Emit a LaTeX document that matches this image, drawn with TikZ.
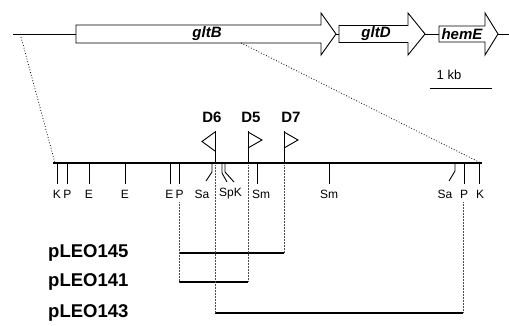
\documentclass[tikz,border=0pt]{standalone}
\usepackage{fontspec}
\setmainfont{Liberation Sans}
\begin{document}
\begin{tikzpicture}[x=1pt,y=-1pt,
  gene/.style={draw=black,fill=white,line width=0.9pt,line join=miter},
  genelbl/.style={font=\fontsize{15}{15}\selectfont\bfseries\itshape,inner sep=0pt},
  site/.style={font=\fontsize{12}{12}\selectfont,inner sep=0pt},
  flaglbl/.style={font=\fontsize{15}{15}\selectfont\bfseries,inner sep=0pt},
  clonelbl/.style={font=\fontsize{18.5}{18.5}\selectfont\bfseries,inner sep=0pt,anchor=west},
  tick/.style={line width=0.9pt},
  guide/.style={densely dotted,line width=0.5pt,black!70},
  zoomln/.style={dotted,line width=0.8pt},
  clone/.style={line width=1.3pt},
  flag/.style={line width=0.9pt,line join=miter}]
\useasboundingbox (0,0) rectangle (509,325);

% ---- top gene map ----
\coordinate (L0) at (13,34);
\coordinate (B0) at (76,34);
\draw[line width=1pt] (L0) -- (B0);
\draw[gene] (76,25) -- (321,25) -- (321,13) -- (336,34) -- (321,55) -- (321,43) -- (76,43) -- cycle;
\coordinate (Btip) at (336,34);
\coordinate (D0) at (339,34);
\draw[line width=0.9pt] (Btip) -- (D0);
\draw[gene] (339,25.5) -- (408,25.5) -- (408,13) -- (425,34) -- (408,55) -- (408,42.5) -- (339,42.5) -- cycle;
\coordinate (Dtip) at (425,34);
\coordinate (E0) at (439,34);
\draw[line width=0.9pt] (Dtip) -- (E0);
\draw[gene] (439,26) -- (485,26) -- (485,13) -- (498,34) -- (485,55) -- (485,42) -- (439,42) -- cycle;
\coordinate (Etip) at (498,34);
\coordinate (Rend) at (509,34);
\draw[line width=0.9pt] (Etip) -- (Rend);
\node[genelbl] (gltB) at (207,34) {gltB};
\node[genelbl] (gltD) at (376,34) {gltD};
\node[genelbl] (hemE) at (462,34) {hemE};

% scale bar
\node[font=\fontsize{13}{13}\selectfont,inner sep=0pt] (kb) at (449,75) {1 kb};
\coordinate (sb1) at (430,88);
\coordinate (sb2) at (492,88);
\draw[line width=1pt] (sb1) -- (sb2);

% ---- zoom lines ----
\coordinate (zl1) at (21,37);
\coordinate (zl2) at (55,163);
\coordinate (zr1) at (241,43);
\coordinate (zr2) at (481,163);
\draw[zoomln] (zl1) -- (zl2);
\draw[zoomln] (zr1) -- (zr2);

% ---- restriction map ----
\coordinate (m0) at (53,163);
\coordinate (m1) at (482,163);
\draw[line width=1.5pt] (m0) -- (m1);

\foreach \x in {57,67,89,125,170,179,257,329,464,479}{
  \draw[tick] (\x,163) -- (\x,184);
}
% angled ticks
\draw[tick] (212,163) -- (212,172) -- (206,181);
\draw[tick] (222,163) -- (222,173) -- (227,182);
\draw[tick] (225,163) -- (225,172) -- (234,182);
\draw[tick] (455,163) -- (455,171) -- (449,181);

\node[site] (sK1) at (57,194) {K};
\node[site] (sP1) at (67.5,194) {P};
\node[site] (sE1) at (89,194) {E};
\node[site] (sE2) at (125,194) {E};
\node[site] (sE3) at (169.5,194) {E};
\node[site] (sP2) at (179.5,194) {P};
\node[site] (sSa1) at (202,194) {Sa};
\node[site] (sSpK) at (230.5,194) {SpK};
\node[site] (sSm1) at (261,194) {Sm};
\node[site] (sSm2) at (329,194) {Sm};
\node[site] (sSa2) at (445,194) {Sa};
\node[site] (sP3) at (464,194) {P};
\node[site] (sK2) at (480,194) {K};

% ---- insertion flags ----
\draw[flag] (215,163) -- (215,131);
\draw[flag] (215,132) -- (202,141.5) -- (215,151);
\draw[flag] (248,163) -- (248,131);
\draw[flag] (248,132) -- (262,140) -- (248,148);
\draw[flag] (284,163) -- (284,131);
\draw[flag] (284,132) -- (298,140) -- (284,148);
\node[flaglbl] (D6) at (212,117) {D6};
\node[flaglbl] (D5) at (251,117) {D5};
\node[flaglbl] (D7) at (291,117) {D7};

% ---- clones ----
\coordinate (a1) at (179,253); \coordinate (a2) at (284,253);
\coordinate (b1) at (179,282); \coordinate (b2) at (248,282);
\coordinate (c1) at (215,313); \coordinate (c2) at (463,313);
\draw[clone] (a1) -- (a2);
\draw[clone] (b1) -- (b2);
\draw[clone] (c1) -- (c2);

% guides
\draw[guide] (179,202) -- (b1);
\draw[guide] (215,165) -- (c1);
\draw[guide] (248,165) -- (b2);
\draw[guide] (284,165) -- (a2);
\draw[guide] (463,202) -- (c2);

\node[clonelbl] (p145) at (48,253) {pLEO145};
\node[clonelbl] (p141) at (48,282) {pLEO141};
\node[clonelbl] (p143) at (48,313) {pLEO143};
\end{tikzpicture}
\end{document}
